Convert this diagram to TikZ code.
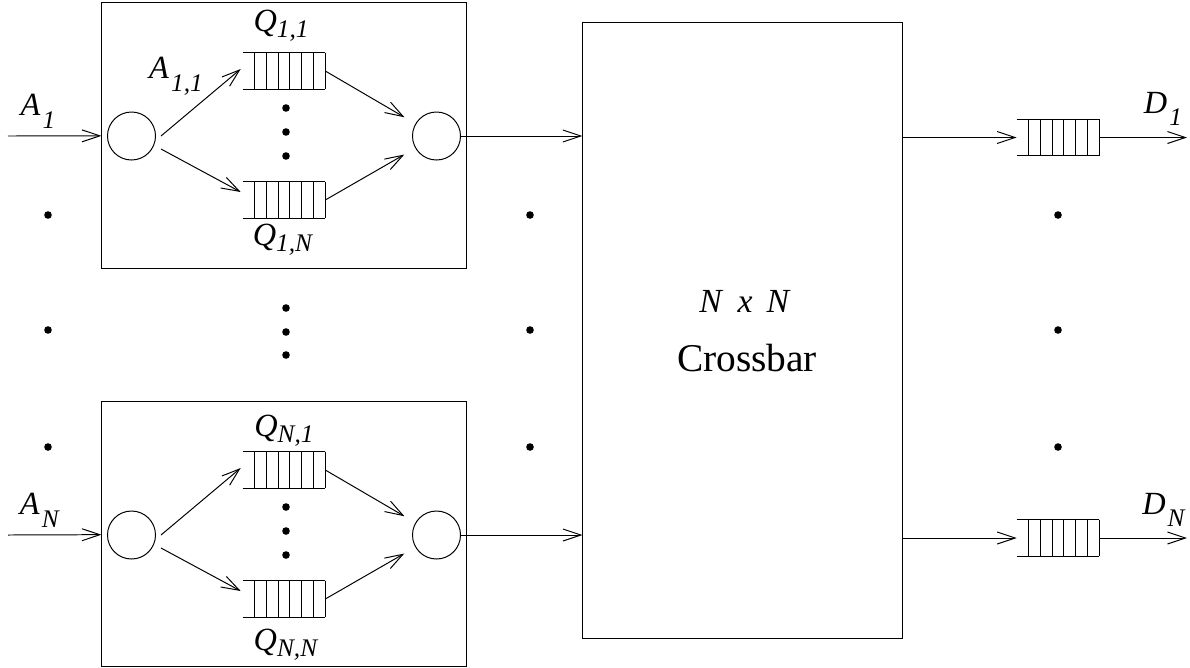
\documentclass[tikz,border=0pt]{standalone}
\usepackage{fontspec}
\setmainfont{Liberation Serif}
\usetikzlibrary{positioning,arrows.meta,calc}

% label with a lowered subscript
\newcommand{\inlbl}[2]{\textit{#1}\kern1.5pt\raisebox{-9pt}{\fontsize{18}{18}\selectfont\textit{#2}}}
\newcommand{\qlbl}[2]{\textit{#1}\raisebox{-4pt}{\fontsize{18}{18}\selectfont\textit{#2}}}
% top, bottom and cell lines of a queue node
\newcommand{\queuelines}[1]{%
  \draw[qline] (#1.north west) -- (#1.north east) (#1.south west) -- (#1.south east);
  \foreach \k in {1,...,7}{\draw[qline] ($(#1.north west)!\k/7!(#1.north east)$) -- ($(#1.south west)!\k/7!(#1.south east)$);}}

\begin{document}
\begin{tikzpicture}[
x=0.025cm,y=-0.025cm,
frame/.style={draw,line width=0.7pt,inner sep=0,minimum width=9.1cm},
server/.style={circle,draw,line width=0.7pt,minimum size=1.2cm,inner sep=0},
queue/.style={inner sep=0,minimum width=2.05cm,minimum height=0.9cm},
qline/.style={line width=0.7pt},
arrow/.style={-{Straight Barb[length=4.5mm,width=3mm]},line width=0.7pt},
lbl/.style={inner sep=0,font=\fontsize{23}{26}\selectfont}
]
\useasboundingbox (0,0) rectangle (1190,667);

% input port 1
\node[frame,minimum height=6.625cm] (box1) at (284,135.5) {};
\node[server] (a1) at (131.5,136) {};
\node[server] (b1) at (436.5,136) {};
\node[queue] (q11) at (284,71) {};
\node[queue] (q1N) at (284,200) {};
\queuelines{q11}
\queuelines{q1N}

% input port N
\node[frame,minimum height=6.625cm] (boxN) at (284,534) {};
\node[server] (aN) at (131.5,535) {};
\node[server] (bN) at (436.5,535) {};
\node[queue] (qN1) at (284,470) {};
\node[queue] (qNN) at (284,599) {};
\queuelines{qN1}
\queuelines{qNN}

% switch and output queues
\node[frame,minimum width=7.975cm,minimum height=15.375cm] (xbar) at (742.5,330.5) {};
\node[lbl,font=\fontsize{24}{28}\selectfont] (nxn) at (745,301) {\textit{N}\hspace{10pt}\textit{x}\hspace{10pt}\textit{N}};
\node[lbl,font=\fontsize{28}{32}\selectfont] (cb) at (747,358) {Crossbar};
\node[queue] (o1) at (1058,137.5) {};
\node[queue] (oN) at (1058,538) {};
\queuelines{o1}
\queuelines{oN}

\coordinate (in1) at (8,136);
\coordinate (inN) at (8,535);
\coordinate (out1) at (1187,137.5);
\coordinate (outN) at (1187,538);

% labels
\node[lbl] at (38,111) {\inlbl{A}{1}};
\node[lbl] at (40,510) {\inlbl{A}{N}};
\node[lbl] at (176,76) {\inlbl{A}{1,1}};
\node[lbl] at (281,26) {\qlbl{Q}{1,1}};
\node[lbl] at (283,240) {\qlbl{Q}{1,N}};
\node[lbl] at (284,431) {\qlbl{Q}{N,1}};
\node[lbl] at (286,645) {\qlbl{Q}{N,N}};
\node[lbl] at (1163,109) {\inlbl{D}{1}};
\node[lbl] at (1164,510) {\inlbl{D}{N}};

% connectors
\draw[arrow] (in1) -- (box1);
\draw[arrow] (inN) -- (boxN);
\draw[arrow] ($(a1.east)+(5,0)$) -- ($(q11.west)+(-2,-2)$);
\draw[arrow] ($(a1.east)+(5,13)$) -- ($(q1N.west)+(-2,-8)$);
\draw[arrow,shorten >=9pt] (q11.east) -- (b1);
\draw[arrow,shorten >=9pt] (q1N.east) -- (b1);
\draw[arrow] ($(aN.east)+(5,0)$) -- ($(qN1.west)+(-2,-2)$);
\draw[arrow] ($(aN.east)+(5,13)$) -- ($(qNN.west)+(-2,-8)$);
\draw[arrow,shorten >=9pt] (qN1.east) -- (bN);
\draw[arrow,shorten >=9pt] (qNN.east) -- (bN);
\draw[arrow] (b1) -- (b1 -| xbar.west);
\draw[arrow] (bN) -- (bN -| xbar.west);
\draw[arrow] (xbar.east |- o1) -- (o1);
\draw[arrow] (xbar.east |- oN) -- (oN);
\draw[arrow] (o1) -- (out1);
\draw[arrow] (oN) -- (outN);

% ellipsis dots
\foreach \x in {48,530,1058}
  \foreach \y in {215,330,447} \fill (\x,\y) circle (3.8);
\foreach \y in {108,132,156,308,332,355,507,531,555} \fill (286,\y) circle (3.8);
\end{tikzpicture}
\end{document}
